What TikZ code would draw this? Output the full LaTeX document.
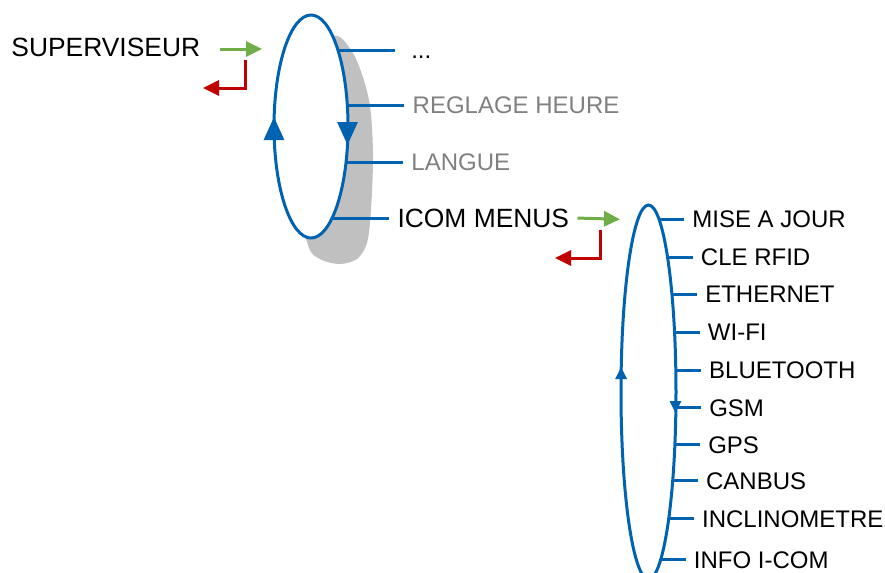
\documentclass[tikz,border=0pt]{standalone}
\usepackage{fontspec}
\setmainfont{Liberation Sans}
\usetikzlibrary{arrows.meta,calc}
\definecolor{loopblue}{RGB}{0,99,177}
\definecolor{entergreen}{RGB}{112,173,71}
\definecolor{backred}{RGB}{192,0,0}
\definecolor{shadowgray}{RGB}{192,192,192}
\definecolor{dimtext}{RGB}{128,128,128}
\newcommand{\menudots}{...}
\tikzset{
  %% Menu loops and branches
  menuloop/.style={draw=loopblue, line width=1.5pt, fill=white},
  branch/.style={draw=loopblue, line width=1.5pt},
  bigtip/.style={-{Triangle[length=11.5pt,width=10pt]}, draw=loopblue, line width=1.5pt},
  smalltip/.style={-{Triangle[length=6pt,width=5.5pt]}, draw=loopblue, line width=1.5pt},
  %% Menu entries
  item/.style={anchor=west, inner xsep=4pt, inner ysep=0pt,
    text height=8.6pt, text depth=0pt, font=\fontsize{12}{14}\selectfont},
  bigitem/.style={item, text height=9.45pt, font=\fontsize{13.2}{15}\selectfont},
  dimitem/.style={item, text=dimtext},
  dotsitem/.style={item, inner xsep=8pt},
  %% Enter / back arrows
  enter/.style={-{Triangle[length=8pt,width=7.5pt]}, line width=1.5pt, draw=entergreen},
  back/.style={-{Triangle[length=8pt,width=7.5pt]}, line width=1.5pt, draw=backred},
}
\begin{document}
\begin{tikzpicture}[x=0.5pt, y=-0.5pt]
  \useasboundingbox (0,0) rectangle (885,573);

  %% Supervisor loop
  \coordinate (c1) at (311,126.5);
  \fill[shadowgray] plot[smooth cycle] coordinates {(332,37) (354,55) (369,100)
    (373,153) (371,210) (367,243) (357,259) (340,264) (322,260) (309,248) (300,200) (302,100)};
  \draw[menuloop] (c1) ellipse [x radius=37, y radius=111.5];
  \draw[bigtip] ($(c1)+(-37,14)$) -- ($(c1)+(-37,-9.5)$);
  \draw[bigtip] ($(c1)+(36.5,-4)$) -- ($(c1)+(36.5,18.5)$);

  \foreach \ang/\nm/\lbl/\sty in {-43.3/more/\menudots/dotsitem, -11.1/heure/REGLAGE HEURE/dimitem,
      18.6/langue/LANGUE/dimitem, 55.2/icom/ICOM MENUS/bigitem} {
    \coordinate (b\nm) at ($(c1)+(\ang:37 and 111.5)$);
    \node[\sty] (\nm) at ($(b\nm)+(57,0)$) {\lbl};
    \draw[branch] (b\nm) -- (\nm.west);
  }

  \node[bigitem] (sup) at (3,47.5) {SUPERVISEUR};
  \coordinate (in1) at (262,49);
  \coordinate (turn1) at (245,60);
  \coordinate (out1) at (203,88);
  \draw[enter] ([xshift=5.5pt,yshift=-0.75pt]sup.east) -- (in1);
  \draw[back] (turn1) |- (out1);

  %% ICOM menus loop
  \coordinate (c2) at (648.5,392);
  \draw[menuloop] (c2) ellipse [x radius=27.5, y radius=187];
  \draw[smalltip] ($(c2)+(-27.4,-13)$) -- ($(c2)+(-27.4,-25)$);
  \draw[smalltip] ($(c2)+(27,9)$) -- ($(c2)+(27,21)$);

  \foreach \yy/\nm/\lbl in {219/maj/MISE A JOUR, 257/rfid/CLE RFID, 294/eth/ETHERNET,
      332/wifi/WI-FI, 370/bt/BLUETOOTH, 408/gsm/GSM, 445/gps/GPS, 481/can/CANBUS,
      519/incl/INCLINOMETRE, 560/info/INFO I-COM} {
    \coordinate (b\nm) at ($(c2)+({asin((\yy-392)/187)}:27.5 and 187)$);
    \node[item] (\nm) at ($(b\nm)+(25,0)$) {\lbl};
    \draw[branch] (b\nm) -- (\nm.west);
  }

  \coordinate (in2) at (620,219.3);
  \coordinate (turn2) at (600,230);
  \coordinate (out2) at (555,258);
  \draw[enter] (icom.east) -- (in2);
  \draw[back] (turn2) |- (out2);

\end{tikzpicture}
\end{document}
